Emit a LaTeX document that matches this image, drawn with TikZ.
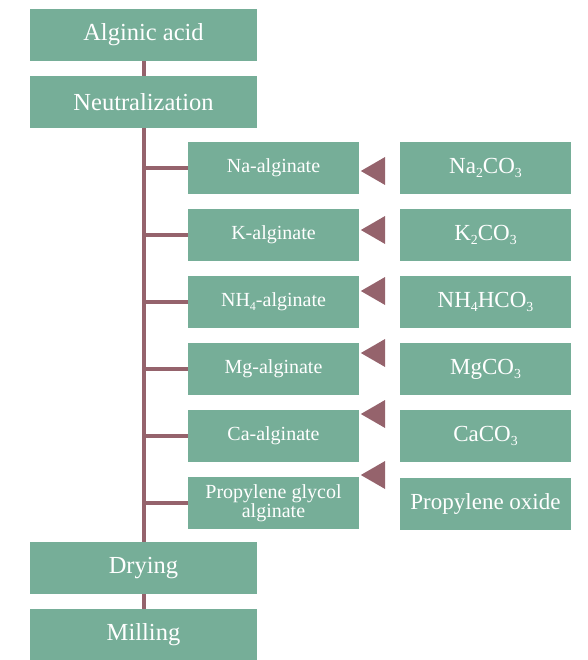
\documentclass[tikz,border=0pt]{standalone}
\usepackage{fontspec}
\setmainfont{Liberation Serif}
\usepackage{xcolor}
\usetikzlibrary{shapes.geometric,calc,positioning}

\definecolor{boxgreen}{RGB}{118,174,152}
\definecolor{linered}{RGB}{149,99,108}
\newcommand\lowsub[1]{\raisebox{-0.4ex}{\scalebox{0.6}{#1}}}

\begin{document}
\begin{tikzpicture}[x=1pt,y=-1pt]
  \tikzset{ stage/.style={rectangle,fill=boxgreen,text=white,inner sep=0pt,
              minimum width=227pt,minimum height=52pt,font=\fontsize{24.5}{26}\selectfont},
            salt/.style={stage,minimum width=171pt,font=\fontsize{20}{19}\selectfont,align=center},
            agent/.style={stage,minimum width=171pt,font=\fontsize{23}{24}\selectfont},
            tri/.style={isosceles triangle,isosceles triangle apex angle=60,shape border rotate=180,
              fill=linered,inner sep=0pt,minimum height=24pt,minimum width=28pt},
            link/.style={draw=linered,line width=4pt},
  }
  \useasboundingbox (0,0) rectangle (587,660);

  \node[stage] (acid)   at (143.5, 35) {Alginic acid};
  \node[stage] (neut)   at (143.5,102) {Neutralization};
  \node[stage] (dry)    at (143.5,568) {Drying};
  \node[stage] (mill)   at (143.5,635) {Milling};

  \node[salt] (na)  at (273.5,168) {Na-alginate};
  \node[salt] (k)   at (273.5,235) {K-alginate};
  \node[salt] (nh)  at (273.5,302) {NH\lowsub{4}-alginate};
  \node[salt] (mg)  at (273.5,369) {Mg-alginate};
  \node[salt] (ca)  at (273.5,436) {Ca-alginate};
  \node[salt] (pg)  at (273.5,503) {Propylene glycol\\alginate};

  \node[agent] (naco) at (485.5,168) {Na\lowsub{2}CO\lowsub{3}};
  \node[agent] (kco)  at (485.5,235) {K\lowsub{2}CO\lowsub{3}};
  \node[agent] (nhco) at (485.5,302) {NH\lowsub{4}HCO\lowsub{3}};
  \node[agent] (mgco) at (485.5,369) {MgCO\lowsub{3}};
  \node[agent] (caco) at (485.5,436) {CaCO\lowsub{3}};
  \node[agent] (po)   at (485.5,504) {Propylene oxide};

  % the arrow heads between the columns
  \node[tri] (t1) at (377,171) {};
  \node[tri] (t2) at (377,230) {};
  \node[tri] (t3) at (377,291) {};
  \node[tri] (t4) at (377,353) {};
  \node[tri] (t5) at (377,414) {};
  \node[tri] (t6) at (377,475) {};

  % the main line and its branches
  \draw[link] (acid.south) -- (neut.north);
  \draw[link] (neut.south) -- (dry.north);
  \draw[link] (dry.south) -- (mill.north);
  \foreach \s in {na,k,nh,mg,ca,pg}
    \draw[link] (neut.south |- \s.west) -- (\s.west);
\end{tikzpicture}
\end{document}
